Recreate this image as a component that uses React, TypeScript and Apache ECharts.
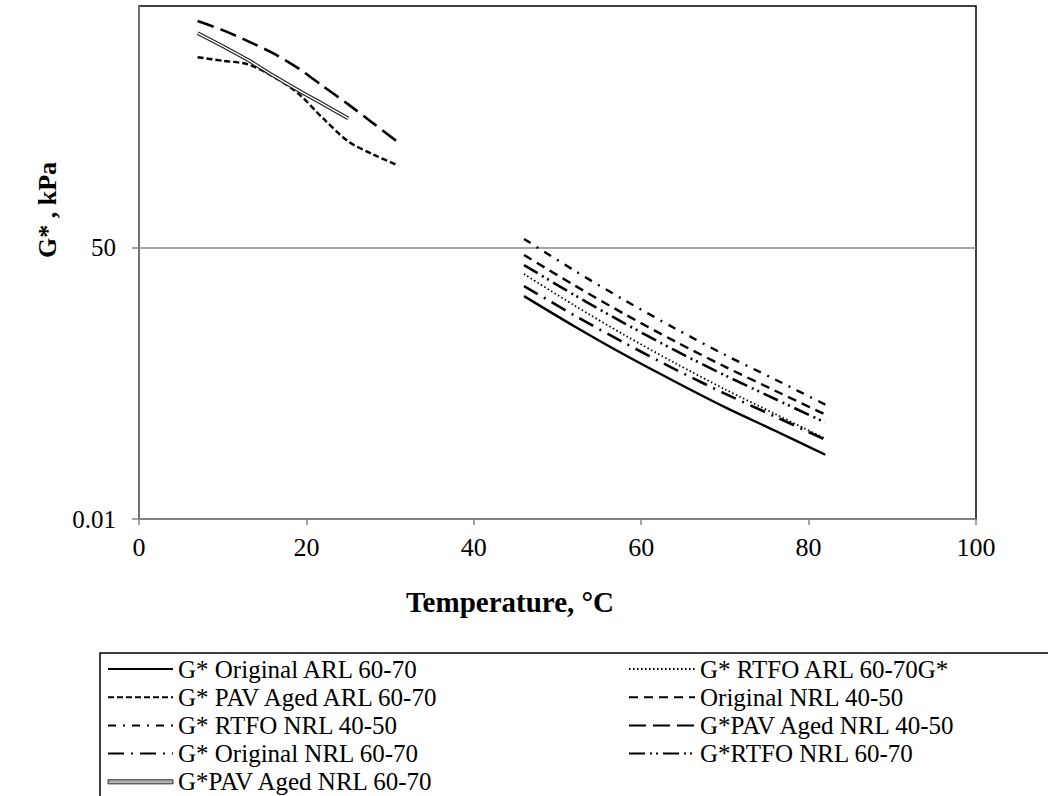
import React, { useEffect, useRef } from "react";
import * as echarts from "echarts";

// Temperatures (°C)
const tempLow = [7, 10, 13, 16, 19, 22, 25, 28, 31];
const tempLowShort = [7, 10, 13, 16, 19, 22, 25];
const tempHigh = [46, 52, 58, 64, 70, 76, 82];

// G* values (kPa)
const originalARL6070 = [11.0, 4.27, 1.74, 0.753, 0.336, 0.16, 0.0753];
const rtfoARL6070 = [22.0, 8.23, 3.24, 1.35, 0.589, 0.271, 0.125];
const pavARL6070 = [20000, 17900, 16000, 11000, 6430, 2920, 1420, 940, 664];
const originalNRL4050 = [40.1, 15.5, 6.27, 2.67, 1.2, 0.563, 0.266];
const rtfoNRL4050 = [66.4, 24.6, 9.69, 4.01, 1.74, 0.802, 0.364];
const pavNRL4050 = [62400, 46900, 33200, 22700, 14200, 8020, 4550, 2500, 1370];
const originalNRL6070 = [15.1, 6.02, 2.53, 1.11, 0.514, 0.25, 0.121];
const rtfoNRL6070 = [29.2, 11.4, 4.68, 2.01, 0.913, 0.434, 0.207];
const pavNRL6070 = [42700, 28300, 18400, 11300, 7110, 4570, 2920];

// Axis ticks
const yTickValues = [0.01, 50];
const yTickLabels = ["0.01", "50"];

// Series names
const N_ORIG_ARL = "G* Original ARL 60-70";
const N_RTFO_ARL = "G* RTFO ARL 60-70G*";
const N_PAV_ARL = "G* PAV Aged ARL 60-70";
const N_ORIG_4050 = "Original NRL 40-50";
const N_RTFO_4050 = "G* RTFO NRL 40-50";
const N_PAV_4050 = "G*PAV Aged NRL 40-50";
const N_ORIG_6070 = "G* Original NRL 60-70";
const N_RTFO_6070 = "G*RTFO NRL 60-70";
const N_PAV_6070 = "G*PAV Aged NRL 60-70";

const FONT = "'Liberation Serif', 'Times New Roman', serif";

function pairs(xs: number[], ys: number[]) {
  return xs.map((x, i) => [x, ys[i]]);
}

export default function App() {
  const ref = useRef<HTMLDivElement>(null);

  useEffect(() => {
    if (!ref.current) return;
    const chart = echarts.init(ref.current, undefined, { renderer: "svg" });

    const line = (name: string, xs: number[], ys: number[], type: any, width = 2.4, color = "#000", z = 2) => ({
      name,
      type: "line",
      data: pairs(xs, ys),
      symbol: "none",
      smooth: 0.3,
      z,
      lineStyle: { color, width, type },
      itemStyle: { color },
    });

    const legendText = { fontFamily: FONT, fontSize: 25, color: "#000" };
    const legendCommon = {
      orient: "vertical",
      top: 656.5,
      itemHeight: 14,
      itemGap: 3.2,
      padding: 0,
      selectedMode: false,
      textStyle: legendText,
      itemStyle: { opacity: 0 },
    };

    const option: any = {
      animation: false,
      grid: {
        left: 139,
        right: 72,
        top: 6,
        bottom: 277,
        show: true,
        borderColor: "#000",
        borderWidth: 1.5,
      },
      xAxis: {
        type: "value",
        min: 0,
        max: 100,
        interval: 20,
        axisLine: { lineStyle: { color: "#868686", width: 1.5 } },
        axisTick: { show: true, length: 6, lineStyle: { color: "#868686", width: 1.5 } },
        axisLabel: { fontFamily: FONT, fontSize: 26, color: "#000", margin: 15 },
        splitLine: { show: false },
      },
      yAxis: {
        type: "log",
        logBase: 10,
        min: 0.01,
        max: 100000,
        axisLine: { show: true, lineStyle: { color: "#868686", width: 1.5 } },
        axisTick: {
          show: true,
          length: 7,
          customValues: yTickValues,
          lineStyle: { color: "#868686", width: 1.5 },
        },
        axisLabel: {
          fontFamily: FONT,
          fontSize: 25,
          color: "#000",
          margin: 23,
          customValues: yTickValues,
          formatter: (v: number) => (v < 1 ? yTickLabels[0] : yTickLabels[1]),
        },
        splitLine: { show: true, lineStyle: { color: "#868686", width: 1.5 } },
        minorSplitLine: { show: false },
      },
      legend: [
        {
          ...legendCommon,
          left: 107,
          itemWidth: 65,
          data: [
            N_ORIG_ARL,
            N_PAV_ARL,
            N_RTFO_4050,
            N_ORIG_6070,
            {
              name: N_PAV_6070,
              icon: "path://M0 0H64V4H0Z",
              itemStyle: { opacity: 1, color: "#b0b0b0", borderColor: "#333", borderWidth: 1 },
            },
          ],
        },
        {
          ...legendCommon,
          left: 628,
          itemWidth: 66,
          data: [N_RTFO_ARL, N_ORIG_4050, N_PAV_4050, N_RTFO_6070],
        },
      ],
      graphic: [
        {
          type: "rect",
          shape: { x: 100, y: 653, width: 1000, height: 200 },
          style: { fill: "none", stroke: "#000", lineWidth: 1.5 },
          silent: true,
        },
        {
          type: "text",
          x: 47,
          y: 210,
          rotation: Math.PI / 2,
          style: {
            text: "G* , kPa",
            font: `bold 26px ${FONT}`,
            fill: "#000",
            textAlign: "center",
            textVerticalAlign: "middle",
          },
        },
        {
          type: "text",
          x: 510,
          y: 602,
          style: {
            text: "Temperature, °C",
            font: `bold 29px ${FONT}`,
            fill: "#000",
            textAlign: "center",
            textVerticalAlign: "middle",
          },
        },
      ],
      series: [
        line(N_ORIG_ARL, tempHigh, originalARL6070, "solid", 2.4),
        line(N_RTFO_ARL, tempHigh, rtfoARL6070, [1.5, 2.5], 1.8),
        line(N_PAV_ARL, tempLow, pavARL6070, [6, 3], 2.4),
        line(N_ORIG_4050, tempHigh, originalNRL4050, [9, 6], 2.4),
        line(N_RTFO_4050, tempHigh, rtfoNRL4050, [8, 7, 2, 7], 2.4),
        line(N_PAV_4050, tempLow, pavNRL4050, [17, 7], 2.6),
        line(N_ORIG_6070, tempHigh, originalNRL6070, [16, 7, 2, 7], 2.6),
        line(N_RTFO_6070, tempHigh, rtfoNRL6070, [16, 5, 2, 4, 2, 5], 2.6),
        line(N_PAV_6070, tempLowShort, pavNRL6070, "solid", 3.8, "#222", 3),
        {
          ...line("pav-nrl-6070-inner", tempLowShort, pavNRL6070, "solid", 1.4, "#fff", 4),
          silent: true,
        },
      ],
    };

    chart.setOption(option);
    return () => chart.dispose();
  }, []);

  return (
    <div
      ref={ref}
      style={{ position: "fixed", left: 0, top: 0, width: 1048, height: 796, background: "#fff" }}
    />
  );
}
